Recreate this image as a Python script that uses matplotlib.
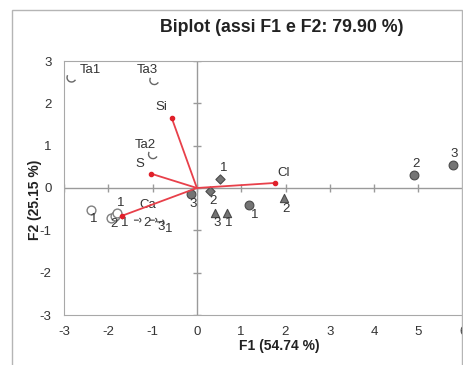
import numpy as np
import matplotlib
matplotlib.use('Agg')
import matplotlib.pyplot as plt
from matplotlib.path import Path
from matplotlib.patches import Rectangle

plt.rcParams['font.family'] = ['Liberation Sans', 'DejaVu Sans']
plt.rcParams['axes.unicode_minus'] = False

# variabili (vettori)
var_names = ['Si', 'S', 'Cl', 'Ca']
var_f1 = [-0.57, -1.04, 1.77, -1.70]
var_f2 = [1.66, 0.34, 0.12, -0.66]

# osservazioni
ta_names = ['Ta1', 'Ta3', 'Ta2']
ta_f1 = [-2.83, -0.96, -0.99]
ta_f2 = [2.61, 2.55, 0.80]

hook_labels = ['2', '3', '1']
hook_f1 = [-1.31, -0.95, -0.79]
hook_f2 = [-0.76, -0.76, -0.80]

open_labels = ['1', '2', '1', '1']
open_f1 = [-2.38, -1.95, -1.85, -1.80]
open_f2 = [-0.53, -0.70, -0.66, -0.60]

circ_labels = ['3', '1', '2', '3']
circ_f1 = [-0.13, 1.18, 4.89, 5.77]
circ_f2 = [-0.13, -0.41, 0.30, 0.54]

diam_labels = ['2', '1']
diam_f1 = [0.29, 0.52]
diam_f2 = [-0.07, 0.22]

tri_labels = ['3', '1', '2']
tri_f1 = [0.41, 0.67, 1.96]
tri_f2 = [-0.60, -0.60, -0.23]

xticks = list(range(-3, 8))
yticks = list(range(-3, 4))

W, H = 463, 365
fig = plt.figure(figsize=(W / 100, H / 100), dpi=100)
ax = fig.add_axes([64 / W, 1 - 315 / H, (507 - 64) / W, (315 - 61) / H])
ax.set_xlim(-3, 7)
ax.set_ylim(-3, 3)

gray = '#9a9a9a'
for s in ['left', 'top', 'bottom']:
    ax.spines[s].set_color('#a8a8a8')
ax.spines['right'].set_visible(False)
ax.set_xticks(xticks)
ax.set_yticks(yticks)
ax.tick_params(length=0, labelsize=9.5, colors='#333333', pad=9)
ax.tick_params(axis='x', pad=8)

# assi centrali con tacche
ax.axhline(0, color=gray, lw=1, zorder=1)
ax.axvline(0, color=gray, lw=1, zorder=1)
ax.plot(xticks, np.zeros(len(xticks)), '|', color=gray, ms=6, mew=1, zorder=1)
ax.plot(np.zeros(len(yticks)), yticks, '_', color=gray, ms=6, mew=1, zorder=1)

# marker a uncino
arc = Path.arc(150, 330)
hook = Path(arc.vertices, arc.codes)
arrow_v = np.vstack([[[-1.8, 0.0], [0.0, 0.0]], Path.arc(-80, 80).vertices * 0.7])
arrow_c = [Path.MOVETO, Path.LINETO] + [Path.MOVETO] + list(Path.arc(-80, 80).codes[1:])
arrow = Path(arrow_v, arrow_c)

def labels(xs, ys, names, offs):
    for x, y, n, o in zip(xs, ys, names, offs):
        ax.annotate(n, (x, y), xytext=o, textcoords='offset pixels',
                    ha='center', va='center', fontsize=9.5, color='#333333')

ax.scatter(ta_f1, ta_f2, marker=hook, s=45, facecolor='none', edgecolor='#666666', lw=1, zorder=3)
labels(ta_f1, ta_f2, ta_names, [(19, 8), (-7, 10), (-8, 9)])

ax.scatter(hook_f1, hook_f2, marker=arrow, s=50, facecolor='none', edgecolor='#555555', lw=0.9, zorder=3)
labels(hook_f1, hook_f2, hook_labels, [(8, -3), (6, -7), (7, -7)])

ax.scatter(open_f1, open_f2, marker='o', s=40, facecolor='white', edgecolor='#808080', lw=1, zorder=3)
labels(open_f1, open_f2, open_labels, [(2, -9), (3, -6), (10, -7), (4, 10)])

ax.scatter(circ_f1, circ_f2, marker='o', s=40, facecolor='#747474', edgecolor='#4a4a4a', lw=0.8, zorder=3)
labels(circ_f1, circ_f2, circ_labels, [(2, -10), (6, -10), (2, 11), (2, 11)])

ax.scatter(diam_f1, diam_f2, marker='D', s=22, facecolor='#747474', edgecolor='#4a4a4a', lw=0.8, zorder=3)
labels(diam_f1, diam_f2, diam_labels, [(3, -10), (4, 11)])

ax.scatter(tri_f1, tri_f2, marker='^', s=35, facecolor='#747474', edgecolor='#4a4a4a', lw=0.8, zorder=3)
labels(tri_f1, tri_f2, tri_labels, [(2, -10), (2, -10), (2, -11)])

# vettori delle variabili
for x, y in zip(var_f1, var_f2):
    ax.plot([0, x], [0, y], color='#e8404a', lw=1.3, zorder=4)
ax.scatter(var_f1, var_f2, s=9, color='#e0202a', zorder=5)
labels(var_f1, var_f2, var_names, [(-10, 11), (-11, 10), (8, 10), (26, 11)])

# testi
fig.text(282 / W, 1 - 27 / H, 'Biplot (assi F1 e F2: 79.90 %)', ha='center', va='center',
         fontsize=12.8, fontweight='bold', color='#222222')
fig.text(279 / W, 1 - 346 / H, 'F1 (54.74 %)', ha='center', va='center',
         fontsize=10, fontweight='bold', color='#222222')
fig.text(35 / W, 1 - 200 / H, 'F2 (25.15 %)', ha='center', va='center', rotation=90,
         fontsize=10, fontweight='bold', color='#222222')

# cornice esterna
fig.add_artist(Rectangle((12 / W, -0.1), (462 - 12) / W, 1.1 - 10 / H, transform=fig.transFigure,
                         fill=False, edgecolor='#b5b5b5', lw=1))

fig.savefig('out.png', dpi=100)
